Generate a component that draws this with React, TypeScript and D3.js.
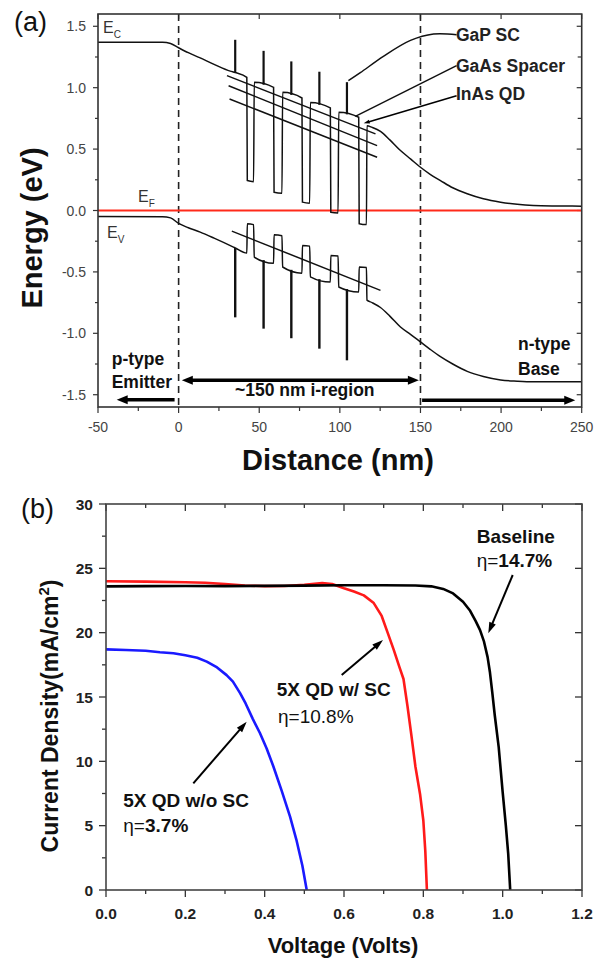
import React from "react";
import * as d3 from "d3";

// ---------- Panel (a) data ----------
const distanceTicks = [-50, 0, 50, 100, 150, 200, 250];
const distanceMinor = [-25, 25, 75, 125, 175, 225];
const energyTicks = [-1.5, -1.0, -0.5, 0.0, 0.5, 1.0, 1.5];
const energyMinor = [-1.25, -0.75, -0.25, 0.25, 0.75, 1.25];

// conduction band [nm, eV]
const cbBand: [number, number][] = [
  [-50, 1.37], [-10, 1.37], [-5, 1.36], [0, 1.325], [6, 1.285], [13, 1.245], [22, 1.19], [32, 1.135],
  [35.1, 1.124], [42.3, 1.084], [42.6, 0.244], [46.5, 0.235], [46.9, 1.045], [58.9, 1.003],
  [59.2, 0.149], [64.1, 0.14], [64.5, 0.962], [76.5, 0.916], [76.8, 0.068], [81.3, 0.06],
  [81.7, 0.88], [94.1, 0.835], [94.4, -0.014], [98.9, -0.02], [99.3, 0.8], [111.7, 0.759],
  [112.0, -0.108], [116.5, -0.115], [116.8, 0.69], [120, 0.677], [125.2, 0.645], [131, 0.575],
  [137.6, 0.488], [144, 0.418], [150, 0.352], [156, 0.295], [162.4, 0.244], [170, 0.185],
  [179, 0.136], [189, 0.095], [199.7, 0.067], [210, 0.05], [220, 0.041], [235, 0.037], [250, 0.035],
];
// valence band [nm, eV]
const vbBand: [number, number][] = [
  [-50, -0.049], [-10, -0.05], [-5, -0.06], [0, -0.105], [6, -0.14], [13.4, -0.176], [22, -0.225],
  [34, -0.298], [35.1, -0.305], [42.3, -0.347], [42.6, -0.108], [46.5, -0.115], [46.9, -0.38],
  [58.9, -0.43], [59.2, -0.198], [64.1, -0.205], [64.5, -0.46], [76.5, -0.51], [76.8, -0.285],
  [81.3, -0.29], [81.7, -0.54], [94.1, -0.583], [94.4, -0.366], [98.9, -0.37], [99.3, -0.623],
  [111.7, -0.664], [112.0, -0.461], [116.5, -0.465], [116.8, -0.73], [120, -0.75], [125.2, -0.79],
  [131, -0.86], [137.6, -0.949], [144, -1.01], [150, -1.07], [156, -1.13], [162.4, -1.19],
  [170, -1.25], [179, -1.31], [189, -1.352], [199.7, -1.38], [210, -1.39], [220, -1.395], [250, -1.395],
];
const spikeX = [35.1, 52.7, 69.9, 87.3, 104.4];
const cbSpikeBase = [1.124, 1.024, 0.941, 0.86, 0.783];
const cbSpikeTop = [1.39, 1.3, 1.214, 1.13, 1.045];
const vbSpikeBase = [-0.305, -0.404, -0.483, -0.559, -0.64];
const vbSpikeBottom = [-0.87, -0.962, -1.04, -1.125, -1.22];
// confined level lines [x0, e0, x1, e1]
const cbLevels = [[30, 1.098, 122.1, 0.624], [31, 1.016, 123.1, 0.528], [31.6, 0.908, 123.1, 0.433]];
const vbLevels = [[33, -0.168, 125.2, -0.65]];
const junctions = [0, 150];
const fermiLevel = 0;

// ---------- Panel (b) data ----------
const voltageTicks = [0, 0.2, 0.4, 0.6, 0.8, 1.0, 1.2];
const voltageMinor = [0.1, 0.3, 0.5, 0.7, 0.9, 1.1];
const currentTicks = [0, 5, 10, 15, 20, 25, 30];
const currentMinor = [2.5, 7.5, 12.5, 17.5, 22.5, 27.5];

const baselineV = [0, 0.1, 0.2, 0.3, 0.4, 0.5, 0.6, 0.7, 0.78, 0.82, 0.85, 0.875, 0.9, 0.918, 0.932, 0.943, 0.953, 0.962, 0.968, 0.974, 0.98, 0.99, 1.0, 1.008, 1.014, 1.019];
const baselineJ = [23.6, 23.62, 23.63, 23.62, 23.64, 23.66, 23.68, 23.68, 23.66, 23.6, 23.4, 23.05, 22.4, 21.7, 20.9, 20.2, 19.3, 18.1, 16.9, 15.3, 13.6, 11.1, 7.6, 5.0, 2.8, 0];
const scV = [0, 0.1, 0.2, 0.25, 0.3, 0.35, 0.4, 0.45, 0.5, 0.545, 0.57, 0.6, 0.625, 0.65, 0.675, 0.695, 0.71, 0.725, 0.74, 0.75, 0.76, 0.77, 0.78, 0.792, 0.8, 0.805, 0.809];
const scJ = [24.0, 23.97, 23.92, 23.88, 23.78, 23.66, 23.62, 23.63, 23.72, 23.85, 23.78, 23.45, 23.2, 22.9, 22.3, 21.3, 20.0, 18.7, 17.3, 16.4, 14.3, 12.0, 9.6, 7.4, 5.4, 3.0, 0];
const noScV = [0, 0.05, 0.1, 0.136, 0.17, 0.2, 0.23, 0.254, 0.28, 0.304, 0.32, 0.338, 0.352, 0.37, 0.388, 0.405, 0.422, 0.443, 0.464, 0.48, 0.495, 0.506];
const noScJ = [18.7, 18.65, 18.6, 18.48, 18.4, 18.25, 18.05, 17.75, 17.3, 16.7, 16.2, 15.3, 14.5, 13.3, 12.2, 11.0, 9.6, 7.7, 5.7, 3.9, 1.9, 0];

const FONT = "'Liberation Sans', Arial, Helvetica, sans-serif";

function head(x1: number, y1: number, x2: number, y2: number, len: number, w: number) {
  const a = Math.atan2(y2 - y1, x2 - x1);
  const bx = x2 - len * Math.cos(a), by = y2 - len * Math.sin(a);
  const px = -Math.sin(a) * w / 2, py = Math.cos(a) * w / 2;
  return `${x2},${y2} ${bx + px},${by + py} ${bx - px},${by - py}`;
}

function Arrow({ x1, y1, x2, y2, len, w, sw, both }: any) {
  const a = Math.atan2(y2 - y1, x2 - x1);
  const sx = both ? x1 + len * 0.8 * Math.cos(a) : x1;
  const sy = both ? y1 + len * 0.8 * Math.sin(a) : y1;
  const ex = x2 - len * 0.8 * Math.cos(a), ey = y2 - len * 0.8 * Math.sin(a);
  return (
    <g>
      <line x1={sx} y1={sy} x2={ex} y2={ey} stroke="#000" strokeWidth={sw} />
      <polygon points={head(x1, y1, x2, y2, len, w)} fill="#000" />
      {both && <polygon points={head(x2, y2, x1, y1, len, w)} fill="#000" />}
    </g>
  );
}

export default function App() {
  // Panel (a) scales
  const xA = d3.scaleLinear().domain([-50, 250]).range([98, 581.7]);
  const yA = d3.scaleLinear().domain([-1.6, 1.6]).range([407, 14]);
  const bandLine = d3.line<[number, number]>().x(d => xA(d[0])).y(d => yA(d[1])).curve(d3.curveMonotoneX);

  // Panel (b) scales
  const xB = d3.scaleLinear().domain([0, 1.2]).range([106, 582]);
  const yB = d3.scaleLinear().domain([0, 30]).range([890, 504]);
  const ivLineX = d3.line<[number, number]>().x(d => xB(d[0])).y(d => yB(d[1])).curve(d3.curveLinear);

  const series = [
    { v: noScV, j: noScJ, color: "#1a1aff", gen: ivLineX },
    { v: scV, j: scJ, color: "#ff1a1a", gen: ivLineX },
    { v: baselineV, j: baselineJ, color: "#000", gen: ivLineX },
  ];

  const [ax0, ax1] = xA.range();
  const [ay0, ay1] = [yA(1.6), yA(-1.6)];
  const [bx0, bx1] = xB.range();
  const [by0, by1] = [yB(30), yB(0)];

  const leaderGaP: [number, number][] = [[172.4, 1.431], [158.1, 1.437], [143.8, 1.385], [127, 1.255], [112.7, 1.122], [105.3, 1.057]];
  const leaderCurve = d3.line<[number, number]>().x(d => xA(d[0])).y(d => yA(d[1])).curve(d3.curveCatmullRom);

  return (
    <svg width={600} height={960} style={{ position: "absolute", left: 0, top: 0, background: "#fff" }} fontFamily={FONT}>
      <rect x={0} y={0} width={600} height={960} fill="#fff" />
      {/* ================= Panel (a) ================= */}
      <text x={14} y={31} fontSize={27} fill="#111">(a)</text>
      {energyTicks.map(t => (
        <g key={"ea" + t}>
          <line x1={ax0 - 5} x2={ax0} y1={yA(t)} y2={yA(t)} stroke="#333" strokeWidth={1.2} />
          <line x1={ax1 - 5} x2={ax1} y1={yA(t)} y2={yA(t)} stroke="#333" strokeWidth={1.2} />
          <text x={ax0 - 12} y={yA(t)} dy="0.36em" textAnchor="end" fontSize={14} fill="#444">{t.toFixed(1)}</text>
        </g>
      ))}
      {energyMinor.map(t => (
        <g key={"em" + t}>
          <line x1={ax0 - 3} x2={ax0} y1={yA(t)} y2={yA(t)} stroke="#333" strokeWidth={1.2} />
          <line x1={ax1 - 4} x2={ax1} y1={yA(t)} y2={yA(t)} stroke="#333" strokeWidth={1.2} />
        </g>
      ))}
      {distanceTicks.map(t => (
        <g key={"da" + t}>
          <line x1={xA(t)} x2={xA(t)} y1={ay1} y2={ay1 + 6} stroke="#333" strokeWidth={1.2} />
          <line x1={xA(t)} x2={xA(t)} y1={ay0} y2={ay0 + 5} stroke="#333" strokeWidth={1.2} />
          <text x={xA(t)} y={432} textAnchor="middle" fontSize={14} fill="#444">{t}</text>
        </g>
      ))}
      {distanceMinor.map(t => (
        <line key={"dm" + t} x1={xA(t)} x2={xA(t)} y1={ay1} y2={ay1 + 4} stroke="#333" strokeWidth={1.2} />
      ))}
      {junctions.map(j => (
        <line key={"j" + j} x1={xA(j)} x2={xA(j)} y1={ay0} y2={ay1} stroke="#222" strokeWidth={1.6} strokeDasharray="7 5" />
      ))}
      <line x1={ax0} x2={ax1} y1={yA(fermiLevel)} y2={yA(fermiLevel)} stroke="#ff2a1a" strokeWidth={2} />
      <path d={bandLine(cbBand) || ""} fill="none" stroke="#111" strokeWidth={1.5} />
      <path d={bandLine(vbBand) || ""} fill="none" stroke="#111" strokeWidth={1.5} />
      {spikeX.map((x, i) => (
        <g key={"s" + i}>
          <line x1={xA(x)} x2={xA(x)} y1={yA(cbSpikeBase[i])} y2={yA(cbSpikeTop[i])} stroke="#111" strokeWidth={2.2} />
          <line x1={xA(x)} x2={xA(x)} y1={yA(vbSpikeBase[i])} y2={yA(vbSpikeBottom[i])} stroke="#111" strokeWidth={2.4} />
        </g>
      ))}
      {[...cbLevels, ...vbLevels].map((l, i) => (
        <line key={"l" + i} x1={xA(l[0])} y1={yA(l[1])} x2={xA(l[2])} y2={yA(l[3])} stroke="#111" strokeWidth={1.5} />
      ))}
      <rect x={ax0} y={ay0} width={ax1 - ax0} height={ay1 - ay0} fill="none" stroke="#333" strokeWidth={1.6} />
      <text x={103} y={33} fontSize={16} fill="#333">E<tspan fontSize={10} dy={5}>C</tspan></text>
      <text x={138} y={202} fontSize={16} fill="#333">E<tspan fontSize={10} dy={5}>F</tspan></text>
      <text x={107} y={238} fontSize={16} fill="#333">E<tspan fontSize={10} dy={5}>V</tspan></text>
      <path d={leaderCurve(leaderGaP) || ""} fill="none" stroke="#111" strokeWidth={1.5} />
      <line x1={xA(172.4)} y1={yA(1.179)} x2={xA(109.6)} y2={yA(0.766)} stroke="#111" strokeWidth={1.5} />
      <Arrow x1={xA(172.4)} y1={yA(0.935)} x2={xA(114.8)} y2={yA(0.71)} len={6} w={4} sw={1.5} />
      <text x={456} y={40.5} fontSize={17.5} fontWeight="bold" fill="#222">GaP SC</text>
      <text x={456} y={72} fontSize={17.5} fontWeight="bold" fill="#222">GaAs Spacer</text>
      <text x={456} y={100} fontSize={17.5} fontWeight="bold" fill="#222">InAs QD</text>
      <Arrow x1={xA(-2.5)} y1={yA(-1.54)} x2={xA(-38.4)} y2={yA(-1.54)} len={11} w={9} sw={3.5} />
      <Arrow x1={xA(2)} y1={yA(-1.382)} x2={xA(149)} y2={yA(-1.382)} len={11} w={9} sw={3.5} both />
      <Arrow x1={xA(151)} y1={yA(-1.545)} x2={xA(246)} y2={yA(-1.545)} len={11} w={9} sw={3.5} />
      <text x={111.7} y={365} fontSize={17.5} fontWeight="bold" fill="#111">p-type</text>
      <text x={111.7} y={387.5} fontSize={17.5} fontWeight="bold" fill="#111">Emitter</text>
      <text x={235} y={396} fontSize={17.5} fontWeight="bold" fill="#111">~150 nm i-region</text>
      <text x={518} y={350} fontSize={17.5} fontWeight="bold" fill="#111">n-type</text>
      <text x={518} y={375} fontSize={17.5} fontWeight="bold" fill="#111">Base</text>
      <text transform="translate(42,228) rotate(-90)" textAnchor="middle" fontSize={29} fontWeight="bold" fill="#111">Energy (eV)</text>
      <text x={338} y={470} textAnchor="middle" fontSize={29} fontWeight="bold" fill="#111">Distance (nm)</text>

      {/* ================= Panel (b) ================= */}
      <text x={21} y={518} fontSize={27} fill="#111">(b)</text>
      {currentTicks.map(t => (
        <g key={"ct" + t}>
          <line x1={bx0 - 7} x2={bx0} y1={yB(t)} y2={yB(t)} stroke="#333" strokeWidth={1.3} />
          <line x1={bx1 - 7} x2={bx1} y1={yB(t)} y2={yB(t)} stroke="#333" strokeWidth={1.3} />
          <text x={93} y={yB(t)} dy="0.36em" textAnchor="end" fontSize={15.5} fontWeight="bold" fill="#222">{t}</text>
        </g>
      ))}
      {currentMinor.map(t => (
        <line key={"cm" + t} x1={bx0 - 4} x2={bx0} y1={yB(t)} y2={yB(t)} stroke="#333" strokeWidth={1.3} />
      ))}
      {voltageTicks.map(t => (
        <g key={"vt" + t}>
          <line x1={xB(t)} x2={xB(t)} y1={by1} y2={by1 + 7} stroke="#333" strokeWidth={1.3} />
          <line x1={xB(t)} x2={xB(t)} y1={by0} y2={by0 + 7} stroke="#333" strokeWidth={1.3} />
          <text x={xB(t)} y={919} textAnchor="middle" fontSize={15.5} fontWeight="bold" fill="#222">{t.toFixed(1)}</text>
        </g>
      ))}
      {voltageMinor.map(t => (
        <g key={"vm" + t}>
          <line x1={xB(t)} x2={xB(t)} y1={by1} y2={by1 + 4} stroke="#333" strokeWidth={1.3} />
          <line x1={xB(t)} x2={xB(t)} y1={by0} y2={by0 + 4} stroke="#333" strokeWidth={1.3} />
        </g>
      ))}
      {series.map((s, i) => (
        <path key={"iv" + i} d={s.gen(s.v.map((v, k) => [v, s.j[k]] as [number, number])) || ""} fill="none" stroke={s.color} strokeWidth={2.6} strokeLinejoin="round" />
      ))}
      <rect x={bx0} y={by0} width={bx1 - bx0} height={by1 - by0} fill="none" stroke="#444" strokeWidth={1.6} />
      <text x={476.7} y={543} fontSize={19} fontWeight="bold" fill="#111">Baseline</text>
      <text x={476.7} y={567} fontSize={19} fill="#111">η=<tspan fontWeight="bold">14.7%</tspan></text>
      <Arrow x1={512.7} y1={575} x2={488.3} y2={633.3} len={11} w={7} sw={2} />
      <text x={276.7} y={696} fontSize={19} fontWeight="bold" fill="#111">5X QD w/ SC</text>
      <text x={278} y={722.5} fontSize={19} fill="#111">η=10.8%</text>
      <Arrow x1={341.7} y1={675} x2={383} y2={640} len={11} w={7} sw={2} />
      <text x={123.3} y={806.7} fontSize={19} fontWeight="bold" fill="#111">5X QD w/o SC</text>
      <text x={123.3} y={831.7} fontSize={19} fill="#111">η=<tspan fontWeight="bold">3.7%</tspan></text>
      <Arrow x1={193.3} y1={783.3} x2={246.7} y2={721.7} len={11} w={7} sw={2} />
      <text x={343} y={953} textAnchor="middle" fontSize={22} fontWeight="bold" fill="#111">Voltage (Volts)</text>
      <text transform="translate(58,716) rotate(-90)" textAnchor="middle" fontSize={23} fontWeight="bold" fill="#111">
        Current Density(mA/cm<tspan fontSize={15} dy={-9}>2</tspan><tspan dy={9}>)</tspan>
      </text>
    </svg>
  );
}
